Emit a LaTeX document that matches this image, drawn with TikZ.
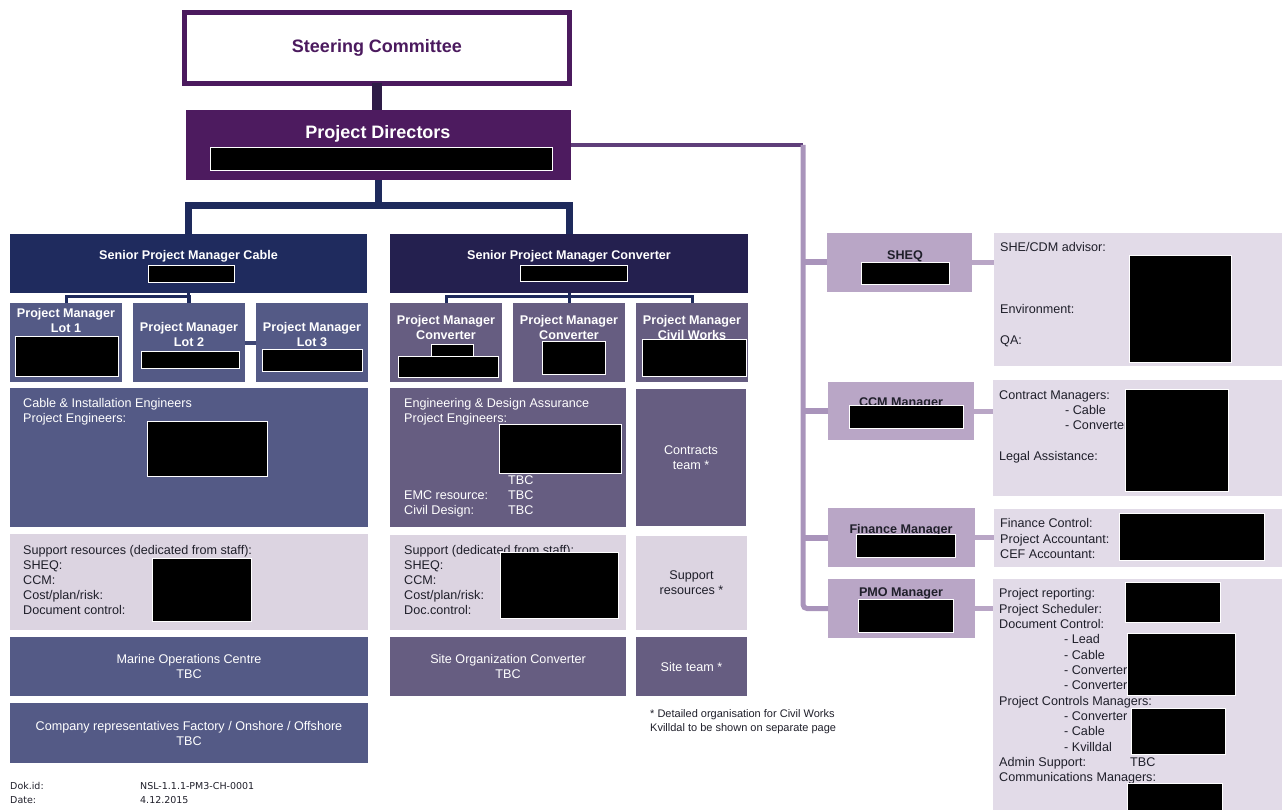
\documentclass[tikz,border=0pt]{standalone}
\usepackage{fontspec}
\setmainfont{Liberation Sans}
\newfontfamily\dokfont{DejaVu Sans}
\usepackage{xcolor}
\usepackage{tikz}

\definecolor{scpurple}{HTML}{4B1A5E}
\definecolor{pdpurple}{HTML}{4D1B5F}
\definecolor{scline}{HTML}{2E1C47}
\definecolor{navyline}{HTML}{1E2A5C}
\definecolor{spmcablefill}{HTML}{1F2B5E}
\definecolor{spmconvfill}{HTML}{24204F}
\definecolor{cableblue}{HTML}{545A86}
\definecolor{convgrey}{HTML}{665D81}
\definecolor{lotline}{HTML}{3E4674}
\definecolor{palebox}{HTML}{DCD4E1}
\definecolor{lilac}{HTML}{B9A6C6}
\definecolor{lilacpale}{HTML}{E2DBE8}
\definecolor{railtop}{HTML}{5F3E7A}
\definecolor{raillilac}{HTML}{A994BB}
\definecolor{inkdark}{HTML}{1F1F2A}

\begin{document}
\begin{tikzpicture}[x=1pt, y=-1pt,
    box/.style={rectangle, anchor=north west, inner sep=0pt, outer sep=0pt, align=center, text=white, font=\fontsize{12.6}{15}\selectfont},
    head/.style={inner sep=0pt, align=center, text=white, font=\bfseries\fontsize{12.6}{15}\selectfont},
    body/.style={anchor=north west, inner sep=0pt, align=left, text=inkdark, font=\fontsize{12.6}{15}\selectfont},
    blk/.style={fill=black, draw=white, line width=0.8pt}]
                \useasboundingbox (0,0) rectangle (1282,810);

                % top of the chart
                \node (sc) [box, fill=white, draw=scpurple, line width=5pt, minimum width=385pt, minimum height=71pt] at (184.5,12.5) {};
                \node (sc-t) [head, text=scpurple, font=\bfseries\fontsize{18}{20}\selectfont] at (377,48) {Steering Committee};
                \node (pd) [box, fill=pdpurple, minimum width=385pt, minimum height=70pt] at (186,110) {};
                \node (pd-t) [head, font=\bfseries\fontsize{18}{20}\selectfont] at (378,134) {Project Directors};
                \path[blk] (210,147) rectangle (552,170);

                % cable side
                \node (spmcable) [box, fill=spmcablefill, minimum width=357pt, minimum height=59pt] at (10,234) {};
                \node (spmcable-t) [head] at (188.5,256) {Senior Project Manager Cable};
                \path[blk] (148,265) rectangle (234,282);
                \node (lot1) [box, fill=cableblue, minimum width=112pt, minimum height=79pt] at (10,303) {};
                \node (lot2) [box, fill=cableblue, minimum width=112pt, minimum height=79pt] at (133,303) {};
                \node (lot3) [box, fill=cableblue, minimum width=112pt, minimum height=79pt] at (256,303) {};
                \node (lot1-t) [head] at (66,320.5) {Project Manager\\Lot 1};
                \node (lot2-t) [head] at (189,334.5) {Project Manager\\Lot 2};
                \node (lot3-t) [head] at (312,334.5) {Project Manager\\Lot 3};
                \path[blk] (15,336) rectangle (118,376);
                \path[blk] (141,351) rectangle (239,368);
                \path[blk] (262,349) rectangle (362,371);

                \node (cabeng) [box, fill=cableblue, minimum width=358pt, minimum height=139pt] at (10,388) {};
                \node (cabeng-t) [body, text=white] at (23,398.4) {Cable \& Installation Engineers\\Project Engineers:};
                \path[blk] (147,421) rectangle (267,476);

                \node (supcable) [box, fill=palebox, minimum width=358pt, minimum height=96pt] at (10,534) {};
                \node (supcable-t) [body] at (23,545.4) {Support resources (dedicated from staff):\\SHEQ:\\CCM:\\Cost/plan/risk:\\Document control:};
                \path[blk] (152,558) rectangle (251,621);

                \node (marine) [box, fill=cableblue, minimum width=358pt, minimum height=59pt] at (10,637) {Marine Operations Centre\\TBC};
                \node (company) [box, fill=cableblue, minimum width=358pt, minimum height=60pt] at (10,703) {Company representatives Factory / Onshore / Offshore\\TBC};

                % converter side
                \node (spmconv) [box, fill=spmconvfill, minimum width=358pt, minimum height=59pt] at (390,234) {};
                \node (spmconv-t) [head] at (569,256) {Senior Project Manager Converter};
                \path[blk] (520,265) rectangle (627,281);
                \node (pmconv1) [box, fill=convgrey, minimum width=112pt, minimum height=79pt] at (390,303) {};
                \node (pmconv2) [box, fill=convgrey, minimum width=112pt, minimum height=79pt] at (513,303) {};
                \node (pmcivil) [box, fill=convgrey, minimum width=112pt, minimum height=79pt] at (636,303) {};
                \node (pmconv1-t) [head] at (446,327.5) {Project Manager\\Converter};
                \node (pmconv2-t) [head] at (569,327.5) {Project Manager\\Converter};
                \node (pmcivil-t) [head] at (692,327.5) {Project Manager\\Civil Works};
                \path[blk] (431,344) rectangle (473,357);
                \path[blk] (398,356) rectangle (498,377);
                \path[blk] (542,341) rectangle (605,374);
                \path[blk] (642,339) rectangle (746,376);

                \node (engda) [box, fill=convgrey, minimum width=236pt, minimum height=139pt] at (390,388) {};
                \node (engda-t) [body, text=white] at (404,398.4) {Engineering \& Design Assurance\\Project Engineers:};
                \path[blk] (499,424) rectangle (621,473);
                \node (engda-tbc) [body, text=white] at (508,475.4) {TBC\\TBC\\TBC};
                \node (engda-r) [body, text=white] at (404,490.4) {EMC resource:\\Civil Design:};
                \node (contracts) [box, fill=convgrey, minimum width=110pt, minimum height=137pt] at (636,389) {Contracts\\team *};

                \node (supconv) [box, fill=palebox, minimum width=236pt, minimum height=95pt] at (390,535) {};
                \node (supconv-t) [body] at (404,545.4) {Support (dedicated from staff):\\SHEQ:\\CCM:\\Cost/plan/risk:\\Doc.control:};
                \path[blk] (500,552) rectangle (618,618);
                \node (supres) [box, fill=palebox, text=inkdark, minimum width=111pt, minimum height=94pt] at (636,536) {Support\\resources *};

                \node (siteorg) [box, fill=convgrey, minimum width=236pt, minimum height=59pt] at (390,637) {Site Organization Converter\\TBC};
                \node (siteteam) [box, fill=convgrey, minimum width=111pt, minimum height=59pt] at (636,637) {Site team *};

                \node (note) [body, font=\fontsize{11}{14}\selectfont] at (650,709) {* Detailed organisation for Civil Works\\Kvilldal to be shown on separate page};
                \node (dok) [body, font=\dokfont\fontsize{9.5}{14}\selectfont] at (10,782) {Dok.id:\\Date:};
                \node (dok-v) [body, font=\dokfont\fontsize{9.5}{14}\selectfont] at (140,782) {NSL-1.1.1-PM3-CH-0001\\4.12.2015};

                % staff functions on the right
                \node (sheq) [box, fill=lilac, minimum width=145pt, minimum height=59pt] at (827,233) {};
                \node (sheq-t) [head, text=inkdark] at (905,256) {SHEQ};
                \path[blk] (861,262) rectangle (949,284);
                \node (sheqd) [box, fill=lilacpale, minimum width=288pt, minimum height=133pt] at (994,233) {};
                \node (sheqd-t) [body, font=\fontsize{12.6}{15.5}\selectfont] at (1000,242.4) {SHE/CDM advisor:\\[46.5pt]Environment:\\[15.5pt]QA:};
                \path[blk] (1129,255) rectangle (1231,362);

                \node (ccm) [box, fill=lilac, minimum width=146pt, minimum height=58pt] at (828,382) {};
                \node (ccm-t) [head, text=inkdark] at (901,403) {CCM Manager};
                \path[blk] (849,405) rectangle (963,428);
                \node (ccmd) [box, fill=lilacpale, minimum width=289pt, minimum height=116pt] at (993,380) {};
                \node (ccmd-t) [body] at (999,390.4) {Contract Managers:};
                \node (ccmd-s) [body] at (1065,405.4) {- Cable\\- Converter};
                \node (ccmd-l) [body] at (999,451.4) {Legal Assistance:};
                \path[blk] (1125,389) rectangle (1228,491);

                \node (fin) [box, fill=lilac, minimum width=147pt, minimum height=59pt] at (828,508) {};
                \node (fin-t) [head, text=inkdark] at (901,530) {Finance Manager};
                \path[blk] (856,534) rectangle (955,557);
                \node (find) [box, fill=lilacpale, minimum width=288pt, minimum height=58pt] at (994,509) {};
                \node (find-t) [body, font=\fontsize{12.6}{15.5}\selectfont] at (1000,518.4) {Finance Control:\\Project Accountant:\\CEF Accountant:};
                \path[blk] (1119,513) rectangle (1264,560);

                \node (pmo) [box, fill=lilac, minimum width=147pt, minimum height=59pt] at (828,579) {};
                \node (pmo-t) [head, text=inkdark] at (901,593) {PMO Manager};
                \path[blk] (858,599) rectangle (953,632);
                \node (pmod) [box, fill=lilacpale, minimum width=289pt, minimum height=231pt] at (993,579) {};
                \node (pmod-t) [body, font=\fontsize{12.6}{15.33}\selectfont] at (999,588.4) {Project reporting:\\Project Scheduler:\\Document Control:\\\hspace*{65pt}- Lead\\\hspace*{65pt}- Cable\\\hspace*{65pt}- Converter\\\hspace*{65pt}- Converter\\Project Controls Managers:\\\hspace*{65pt}- Converter\\\hspace*{65pt}- Cable\\\hspace*{65pt}- Kvilldal\\\makebox[131pt][l]{Admin Support:}TBC\\Communications Managers:};
                \path[blk] (1125,582) rectangle (1220,622);
                \path[blk] (1127,633) rectangle (1235,695);
                \path[blk] (1131,708) rectangle (1225,754);
                \path[blk] (1127,783) rectangle (1222,812);

                % reporting lines
                \coordinate (pdjoin) at (378.5,205.5);
                \coordinate (rail) at (803,145);
                \draw[line width=10pt, draw=scline] (sc.south) -- (sc.south |- pd.north);
                \draw[line width=7pt, draw=navyline] (pd.south) -- (pdjoin);
                \draw[line width=7pt, draw=navyline] (spmcable.north) |- (pdjoin) -| (spmconv.north);
                \draw[line width=3pt, draw=navyline] (lot1.north) -- ++(0,-6) -| (lot2.north);
                \draw[line width=3pt, draw=navyline] (spmcable.south) -- (spmcable.south |- lot2.north);
                \draw[line width=4pt, draw=lotline] (lot2.east) -- (lot3.west);
                \draw[line width=3pt, draw=navyline] (pmconv1.north) -- ++(0,-6) -| (pmcivil.north);
                \draw[line width=3pt, draw=navyline] (spmconv.south) -- (spmconv.south |- pmconv2.north);

                \draw[line width=4pt, draw=railtop] (pd.east) -- (rail);
                \draw[line width=5pt, draw=raillilac, rounded corners=4pt] (rail) |- (pmo.west);
                \draw[line width=6pt, draw=raillilac] (sheq.west) -- (sheq.west -| rail);
                \draw[line width=6pt, draw=raillilac] (ccm.west) -- (ccm.west -| rail);
                \draw[line width=6pt, draw=raillilac] (fin.west) -- (fin.west -| rail);
                \draw[line width=5pt, draw=lilac] (sheq.east) -- (sheq.east -| sheqd.west);
                \draw[line width=5pt, draw=lilac] (ccm.east) -- (ccm.east -| ccmd.west);
                \draw[line width=5pt, draw=lilac] (fin.east) -- (fin.east -| find.west);
                \draw[line width=5pt, draw=lilac] (pmo.east) -- (pmo.east -| pmod.west);
            \end{tikzpicture}
\end{document}
